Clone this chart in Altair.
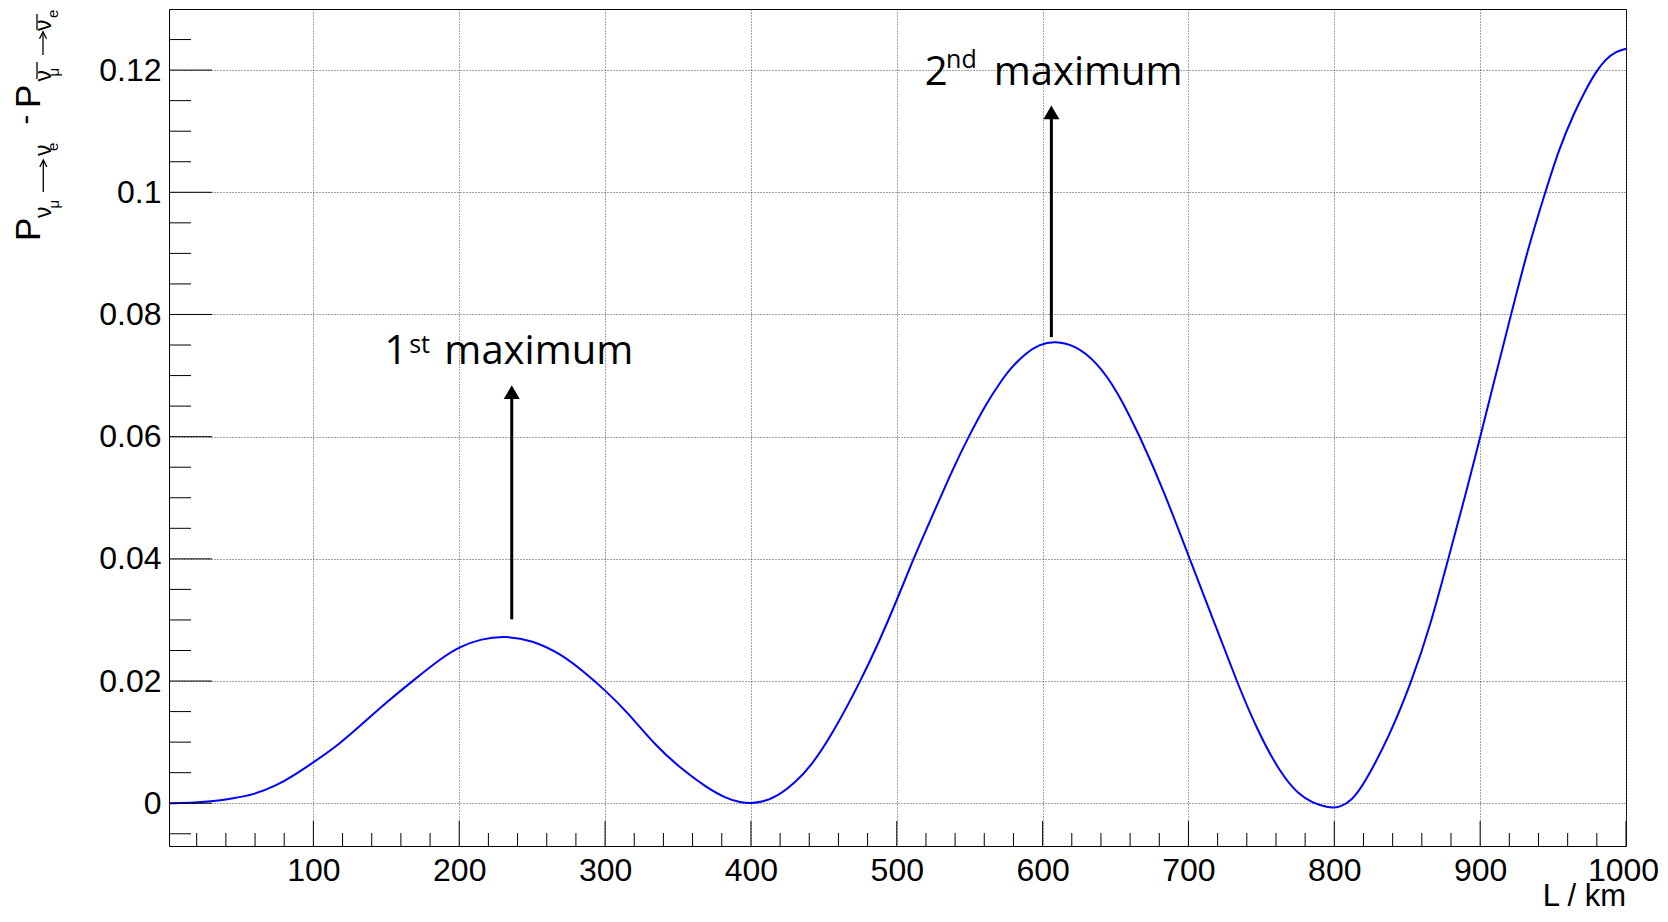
import altair as alt
import pandas as pd

# ---- curve values ----
L_KM = [1, 20, 31, 45, 59, 74, 87, 100, 117, 135, 149, 169, 188, 201, 215, 231, 250, 270, 285,
        300, 315, 335, 353, 370, 383, 393, 400, 408, 418, 430, 441, 456, 475, 488, 500, 511, 523,
        539, 549, 562, 571, 578, 589, 598, 608, 623, 637, 651, 667, 683, 701, 717, 733, 747, 763,
        776, 785, 796, 804, 812, 820, 838, 853, 866, 878, 891, 900, 911, 921, 933, 944, 954, 965,
        972, 979, 986, 993, 1000]
DELTA_P = [0.0, 0.0001, 0.0003, 0.0008, 0.0014, 0.0028, 0.0046, 0.0067, 0.0095, 0.0133, 0.0163,
           0.0202, 0.0238, 0.0257, 0.0269, 0.0274, 0.0267, 0.0244, 0.0216, 0.0185, 0.0150, 0.0093,
           0.0055, 0.0025, 0.0008, 0.0001, 0.0, 0.0002, 0.0011, 0.0033, 0.0060, 0.0114, 0.0199,
           0.0265, 0.0332, 0.0398, 0.0463, 0.0550, 0.0599, 0.0657, 0.0689, 0.0712, 0.0738, 0.0751,
           0.0757, 0.0749, 0.0722, 0.0676, 0.0599, 0.0512, 0.0399, 0.0300, 0.0200, 0.0120, 0.0049,
           0.0013, 0.0001, -0.0008, -0.0007, 0.0005, 0.0029, 0.0111, 0.0199, 0.0292, 0.0399,
           0.0514, 0.0599, 0.0704, 0.0798, 0.0910, 0.0995, 0.1071, 0.1133, 0.1166, 0.1196, 0.1218,
           0.1230, 0.1235]

# ---- axes ----
X_MAJOR = [100, 200, 300, 400, 500, 600, 700, 800, 900, 1000]
X_MINOR = [v for v in range(20, 1000, 20) if v % 100 != 0]
Y_MAJOR = [0, 0.02, 0.04, 0.06, 0.08, 0.1, 0.12]
Y_MINOR = [round(-0.005 + 0.005 * i, 3) for i in range(27)]
Y_MINOR = [v for v in Y_MINOR if abs(v / 0.02 - round(v / 0.02)) > 1e-6]

# ---- annotations ----
ARROW_L = [236, 606]
ARROW_TAIL = [0.0301, 0.0763]
ARROW_TIP = [0.0686, 0.1144]
ANN_MAIN_TEXT = ["1", "maximum", "2", "maximum"]
ANN_MAIN_L = [148.7, 189.8, 519.2, 566.5]
ANN_MAIN_P = [0.07182, 0.07182, 0.11759, 0.11759]
ANN_SUP_TEXT = ["st", "nd"]
ANN_SUP_L = [165.7, 533.8]
ANN_SUP_P = [0.07373, 0.12042]

W, H = 1457, 837

# y-axis title pieces (rotated text layout, pixels relative to plot area)
YT_TEXT = ["P", "ν", "μ", "ν", "e", "P", "ν", "μ", "ν", "e"]
YT_X = [-129, -118, -110, -118.5, -111.5, -129, -118, -110, -118.5, -111.5]
YT_Y = [232, 209, 199.5, 147, 142, 99, 72.5, 67.5, 22, 9]
YT_FS = [35, 23, 15, 23, 15, 35, 23, 15, 23, 15]
DASH_X, DASH_Y, DASH_FS = -143, 115.5, 29
BAR_X = [-132, -132]
BAR_Y1 = [53, 5]
BAR_Y2 = [70, 21]
TARROW_X = [-125.7, -126]
TARROW_Y1 = [183, 46]
TARROW_Y2 = [151, 22.7]

xs = alt.Scale(domain=[1, 1000], nice=False, zero=False)
ys = alt.Scale(domain=[-0.007, 0.13], nice=False, zero=False)

curve = pd.DataFrame({"L": L_KM, "dP": DELTA_P})

GRID = dict(gridDash=[1, 2], gridColor="#444444", gridWidth=1)
LABELS = dict(labelFont="Liberation Sans", labelFontSize=32, labelColor="black",
              labelFlush=False, labelOverlap=False)

line = alt.Chart(curve).mark_line(color="#0000ff", strokeWidth=2, interpolate="basis").encode(
    x=alt.X("L:Q", scale=xs, axis=alt.Axis(
        values=X_MAJOR, title=None, ticks=False, domain=False, grid=True, format="d",
        labelPadding=9,
        labelOffset=alt.condition("datum.value == 1000", alt.value(-3), alt.value(0)),
        **GRID, **LABELS)),
    y=alt.Y("dP:Q", scale=ys, axis=alt.Axis(
        values=Y_MAJOR, title=None, ticks=False, domain=False, grid=True, format="~g",
        labelPadding=8, **GRID, **LABELS)),
)

def xtick(vals, length):
    return alt.Chart(pd.DataFrame({"v": vals})).mark_rule(color="black", strokeWidth=1).encode(
        x=alt.X("v:Q", scale=xs), y=alt.value(H), y2=alt.value(H - length))

def ytick(vals, length):
    return alt.Chart(pd.DataFrame({"v": vals})).mark_rule(color="black", strokeWidth=1).encode(
        y=alt.Y("v:Q", scale=ys), x=alt.value(0), x2=alt.value(length))

arrows = pd.DataFrame({"L": ARROW_L, "tail": ARROW_TAIL, "tip": ARROW_TIP})
shaft = alt.Chart(arrows).mark_rule(color="black", strokeWidth=3, y2Offset=12).encode(
    x=alt.X("L:Q", scale=xs), y=alt.Y("tail:Q", scale=ys), y2="tip:Q")
head = alt.Chart(arrows).mark_point(shape="triangle-up", size=256, filled=True, color="black",
                                    opacity=1, strokeWidth=0, yOffset=8).encode(
    x=alt.X("L:Q", scale=xs), y=alt.Y("tip:Q", scale=ys))

ann_main = alt.Chart(pd.DataFrame({"t": ANN_MAIN_TEXT, "L": ANN_MAIN_L, "P": ANN_MAIN_P})).mark_text(
    font="Open Sans", fontSize=40, align="left", baseline="alphabetic", color="black").encode(
    x=alt.X("L:Q", scale=xs), y=alt.Y("P:Q", scale=ys), text="t:N")
ann_sup = alt.Chart(pd.DataFrame({"t": ANN_SUP_TEXT, "L": ANN_SUP_L, "P": ANN_SUP_P})).mark_text(
    font="Open Sans", fontSize=25, align="left", baseline="alphabetic", color="black").encode(
    x=alt.X("L:Q", scale=xs), y=alt.Y("P:Q", scale=ys), text="t:N")

ytitle = alt.Chart(pd.DataFrame({"t": YT_TEXT, "px": YT_X, "py": YT_Y, "fs": YT_FS})).mark_text(
    font="Liberation Sans", angle=270, align="left", baseline="alphabetic", color="black").encode(
    x=alt.X("px:Q", scale=None, axis=None), y=alt.Y("py:Q", scale=None, axis=None),
    text="t:N", size=alt.Size("fs:Q", scale=None, legend=None))
ydash = alt.Chart(pd.DataFrame({"t": ["-"]})).mark_text(
    font="Liberation Sans", fontSize=DASH_FS, angle=270, align="left", baseline="middle",
    color="black").encode(x=alt.value(DASH_X), y=alt.value(DASH_Y), text="t:N")
ybars = alt.Chart(pd.DataFrame({"x": BAR_X, "y1": BAR_Y1, "y2": BAR_Y2})).mark_rule(
    color="black", strokeWidth=1.3).encode(
    x=alt.X("x:Q", scale=None, axis=None), y=alt.Y("y1:Q", scale=None, axis=None), y2="y2:Q")
tarrows = pd.DataFrame({"x": TARROW_X, "y1": TARROW_Y1, "y2": TARROW_Y2})
tshaft = alt.Chart(tarrows).mark_rule(color="black", strokeWidth=1.3).encode(
    x=alt.X("x:Q", scale=None, axis=None), y=alt.Y("y1:Q", scale=None, axis=None), y2="y2:Q")
thead = alt.Chart(tarrows).mark_point(shape="M-1,1L0,-1L1,1", size=49, filled=False,
                                      color="black", opacity=1, strokeWidth=1.3,
                                      yOffset=3.5).encode(
    x=alt.X("x:Q", scale=None, axis=None), y=alt.Y("y2:Q", scale=None, axis=None))

xtitle = alt.Chart(pd.DataFrame({"t": ["L / km"]})).mark_text(
    font="Liberation Sans", fontSize=31, align="right", baseline="alphabetic", color="black").encode(
    x=alt.value(W), y=alt.value(H + 60), text="t:N")

chart = alt.layer(
    line, xtick(X_MAJOR, 25), xtick(X_MINOR, 13), ytick(Y_MAJOR, 43), ytick(Y_MINOR, 22),
    shaft, head, ann_main, ann_sup, ytitle, ydash, ybars, tshaft, thead, xtitle
).properties(
    width=W, height=H,
    autosize=alt.AutoSizeParams(type="none"),
    padding={"left": 161, "top": 1, "right": 34, "bottom": 68},
    background="white",
).configure_view(stroke="black", strokeWidth=1)

chart.save("out.html", embed_options={"renderer": "svg", "actions": False})
